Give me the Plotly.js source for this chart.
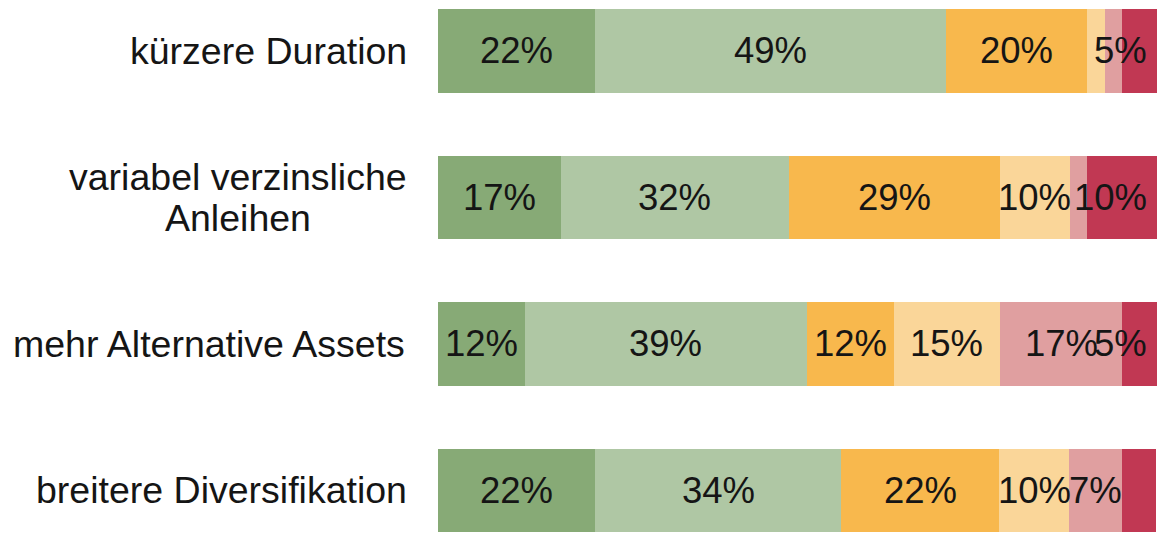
<!DOCTYPE html>
<html>
<head>
<meta charset="utf-8">
<script src="https://cdn.plot.ly/plotly-3.0.1.min.js"></script>
<style>
html,body{margin:0;padding:0;background:#fff;}
#chart{width:1166px;height:534px;}
</style>
</head>
<body>
<div id="chart"></div>
<script>
const categories = ['kürzere Duration', 'variabel verzinsliche<br>Anleihen', 'mehr Alternative Assets', 'breitere Diversifikation'];

const s1 = [21.9, 17.1, 12.1, 21.9];
const s2 = [48.8, 31.7, 39.2, 34.2];
const s3 = [19.5, 29.3, 12.1, 21.9];
const s4 = [2.5, 9.8, 14.7, 9.8];
const s5 = [2.5, 2.3, 17.1, 7.3];
const s6 = [4.8, 9.8, 4.8, 4.8];

const l1 = ['22%', '17%', '12%', '22%'];
const l2 = ['49%', '32%', '39%', '34%'];
const l3 = ['20%', '29%', '12%', '22%'];
const l4 = ['', '10%', '15%', '10%'];
const l5 = ['', '', '17%', '7%'];
const l6 = ['5%', '10%', '5%', ''];

const colors = ['#87AA76', '#AFC7A4', '#F8B84D', '#FAD699', '#E09FA0', '#C13853'];

const series = [s1, s2, s3, s4, s5, s6];
const labels = [l1, l2, l3, l4, l5, l6];

const W = 1166, H = 534;
const margin = {l: 438, r: 9, t: 0, b: 0};
const plotW = W - margin.l - margin.r;
const pxPerUnit = plotW / 100;
const labelFontSize = 36.5;
const catFontSize = 37.5;
const catLineHeight = 41;
const fontFamily = 'Liberation Sans, Arial, sans-serif';

const canvas = document.createElement('canvas');
const ctx = canvas.getContext('2d');

const traces = series.map((s, j) => ({
  type: 'bar',
  orientation: 'h',
  x: s,
  y: categories,
  marker: {color: colors[j], line: {width: 0}},
  hoverinfo: 'x+y',
  showlegend: false
}));

const annotations = [];
const rightLimit = 100 - 9 / pxPerUnit; // labels kept inside chart area
categories.forEach((cat, i) => {
  let cum = 0;
  ctx.font = labelFontSize + 'px "Liberation Sans"';
  series.forEach((s, j) => {
    const v = s[i];
    const txt = labels[j][i];
    const mid = cum + v / 2;
    cum += v;
    if (!txt) return;
    const halfW = ctx.measureText(txt).width / 2 / pxPerUnit;
    let x = mid, anchor = 'center';
    if (mid + halfW > rightLimit) { x = rightLimit; anchor = 'right'; }
    annotations.push({
      x: x, y: cat, xref: 'x', yref: 'y',
      text: txt, showarrow: false, xanchor: anchor, yanchor: 'middle',
      borderpad: 0,
      font: {family: fontFamily, size: labelFontSize, color: '#151515'}
    });
  });
  // category label, lines centred on each other, block right-aligned
  const lines = cat.split('<br>');
  ctx.font = catFontSize + 'px "Liberation Sans"';
  const maxW = Math.max(...lines.map(t => ctx.measureText(t).width));
  lines.forEach((line, k) => {
    const off = (k - (lines.length - 1) / 2) * catLineHeight;
    annotations.push({
      x: 0, y: cat, xref: 'paper', yref: 'y',
      text: line, showarrow: false, xanchor: 'center', yanchor: 'middle',
      xshift: -31 - maxW / 2, yshift: -off, borderpad: 0,
      font: {family: fontFamily, size: catFontSize, color: '#151515'}
    });
  });
});

const layout = {
  width: W, height: H,
  margin: margin,
  paper_bgcolor: '#ffffff',
  plot_bgcolor: '#ffffff',
  barmode: 'stack',
  bargap: 0.427,
  showlegend: false,
  xaxis: {range: [0, 100], visible: false, fixedrange: true},
  yaxis: {type: 'category', categoryorder: 'array', categoryarray: categories,
          range: [3.297, -0.348], visible: false, fixedrange: true},
  annotations: annotations
};

Plotly.newPlot('chart', traces, layout, {displayModeBar: false, staticPlot: true});
</script>
</body>
</html>
